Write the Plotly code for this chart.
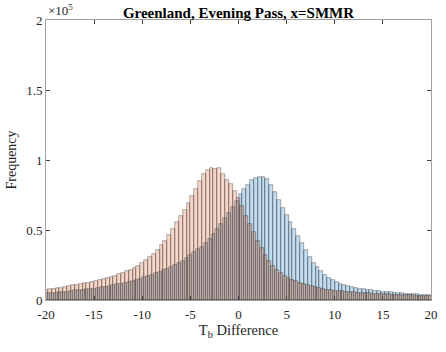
import plotly.graph_objects as go

# Histogram counts (x 1000), bin width 0.4
blue_start = -20.0   # left edge of first blue bin
red_start = -20.2    # left edge of first red bin
bin_w = 0.4

blue_counts_k = [
    4.8, 5.0, 5.2, 5.4, 5.7, 6.0, 6.4, 6.8, 7.0, 7.3,
    7.6, 7.9, 8.2, 8.6, 9.0, 9.5, 10.0, 10.5, 11.1, 11.7,
    12.3, 13.0, 13.8, 14.5, 15.3, 16.2, 17.2, 18.2, 19.2, 20.2,
    21.2, 22.2, 23.3, 24.8, 26.4, 28.2, 30.2, 32.2, 34.2, 36.2,
    38.2, 40.5, 43.5, 47.0, 50.5, 54.5, 58.5, 62.5, 66.5, 71.0,
    75.5, 79.5, 82.5, 85.5, 87.3, 88.2, 88.0, 86.5, 82.5, 77.5,
    71.5, 66.0, 61.0, 56.0, 51.0, 46.0, 41.0, 35.5, 31.0, 26.5,
    23.5, 20.5, 18.0, 16.0, 14.0, 12.6, 11.6, 10.8, 10.0, 9.4,
    8.8, 8.2, 7.6, 7.1, 6.8, 6.5, 6.2, 6.0, 5.8, 5.5,
    5.2, 5.0, 4.8, 4.6, 4.4, 4.2, 4.0, 3.9, 3.8, 3.6,
]

red_counts_k = [
    7.5, 7.8, 8.1, 8.5, 8.9, 9.3, 9.8, 10.4, 10.9, 11.4,
    11.9, 12.5, 13.1, 13.7, 14.3, 15.0, 15.8, 16.6, 17.4, 18.3,
    19.3, 20.4, 21.6, 23.0, 24.6, 26.4, 28.4, 30.6, 33.0, 35.8,
    39.0, 42.5, 46.5, 51.0, 55.5, 60.0, 64.0, 69.0, 74.0, 79.5,
    85.0, 90.0, 93.0, 94.5, 93.5, 94.5, 90.0, 86.0, 83.0, 78.0,
    73.0, 67.0, 60.0, 54.0, 48.5, 42.0, 37.0, 32.0, 28.0, 24.5,
    21.5, 19.0, 17.0, 15.5, 14.3, 13.3, 12.4, 11.6, 10.8, 10.0,
    9.2, 8.5, 7.9, 7.4, 7.0, 6.7, 6.4, 6.1, 5.9, 5.7,
    5.5, 5.3, 5.1, 4.9, 4.7, 4.5, 4.4, 4.3, 4.1, 4.0,
    3.9, 3.8, 3.6, 3.5, 3.4, 3.3, 3.2, 3.1, 3.0, 2.9,
    2.9,
]

x_ticks = [-20, -15, -10, -5, 0, 5, 10, 15, 20]
x_tick_text = ["-20", "-15", "-10", "-5", "0", "5", "10", "15", "20"]
y_ticks = [0, 50000, 100000, 150000, 200000]
y_tick_text = ["0", "0.5", "1", "1.5", "2"]

blue_x = [blue_start + bin_w * (i + 0.5) for i in range(len(blue_counts_k))]
red_x = [red_start + bin_w * (i + 0.5) for i in range(len(red_counts_k))]
blue_y = [v * 1000 for v in blue_counts_k]
red_y = [v * 1000 for v in red_counts_k]

FONT = "Liberation Serif"

fig = go.Figure()
fig.add_trace(go.Bar(
    x=blue_x, y=blue_y, width=bin_w,
    marker=dict(color="rgba(0,114,189,0.24)",
                line=dict(color="rgba(0,0,0,0.5)", width=0.6)),
    showlegend=False,
))
fig.add_trace(go.Bar(
    x=red_x, y=red_y, width=bin_w,
    marker=dict(color="rgba(217,83,25,0.24)",
                line=dict(color="rgba(0,0,0,0.5)", width=0.6)),
    showlegend=False,
))

axis_common = dict(
    showgrid=False, zeroline=False, showline=True, linecolor="#a0a0a0",
    linewidth=1, mirror="ticks", ticks="inside", ticklen=4, tickcolor="#404040",
    tickfont=dict(family=FONT, size=13, color="#262626"),
)

fig.update_layout(
    width=446, height=352,
    margin=dict(l=46, r=8, t=20, b=52),
    paper_bgcolor="white", plot_bgcolor="white",
    barmode="overlay", bargap=0,
    font=dict(family=FONT, color="#262626"),
    title=dict(text="<b>Greenland, Evening Pass, x=SMMR</b>",
               x=0.5, xref="paper", xanchor="center",
               y=1, yref="paper", yanchor="bottom", pad=dict(b=2),
               font=dict(family=FONT, size=15, color="#000000")),
    xaxis=dict(range=[-20, 20], tickvals=x_ticks, ticktext=x_tick_text,
               ticklabelstandoff=2,
               title=dict(text="T<sub>b</sub> Difference", standoff=4,
                          font=dict(family=FONT, size=14.5, color="#262626")),
               **axis_common),
    yaxis=dict(range=[0, 200000], tickvals=y_ticks, ticktext=y_tick_text,
               title=dict(text="Frequency", standoff=6,
                          font=dict(family=FONT, size=14, color="#262626")),
               **axis_common),
    annotations=[dict(text="×10<sup>5</sup>", xref="paper", yref="paper",
                      x=0.0, y=1.0, xanchor="left", yanchor="bottom",
                      showarrow=False,
                      font=dict(family=FONT, size=13, color="#262626"))],
)

fig.write_html("out.html")
